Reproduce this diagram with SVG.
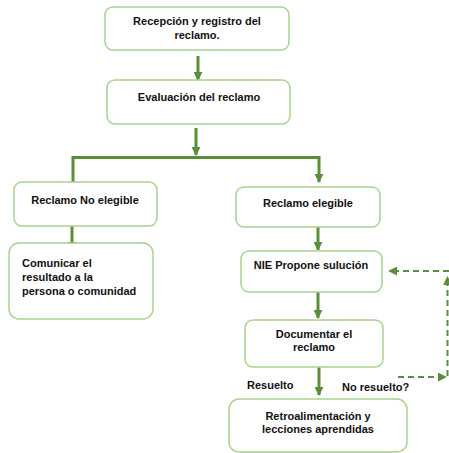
<svg xmlns="http://www.w3.org/2000/svg" width="449" height="453" viewBox="0 0 449 453">
<style>
.box{fill:#fff;stroke:#a8d48c;stroke-width:1.5}
.t{font-family:"Liberation Sans",Arial,sans-serif;font-weight:bold;font-size:11px;fill:#111}
.c{text-anchor:middle}
.ln{stroke:#5a8f3a;stroke-width:3;fill:none}
.ds{stroke:#5a8f3a;stroke-width:2;fill:none;stroke-dasharray:6,4}
</style>
<defs>
<marker id="ah" viewBox="0 0 10 10" refX="9" refY="5" markerWidth="3" markerHeight="3" orient="auto"><path d="M0,0L10,5L0,10z" fill="#5a8f3a"/></marker>
<marker id="ahd" viewBox="0 0 10 10" refX="9" refY="5" markerWidth="4.5" markerHeight="4.5" orient="auto"><path d="M0,0L10,5L0,10z" fill="#5a8f3a"/></marker>
</defs>
<rect width="449" height="453" fill="#fff"/>
<g id="connectors">
<line class="ln" x1="198" y1="56" x2="198" y2="80" marker-end="url(#ah)"/>
<line class="ln" x1="196" y1="128" x2="196" y2="155" marker-end="url(#ah)"/>
<polyline class="ln" points="73,182 73,157.5 319,157.5 319,182" marker-end="url(#ah)"/>
<line class="ln" x1="72" y1="226" x2="72" y2="250" marker-end="url(#ah)"/>
<line class="ln" x1="318" y1="227" x2="318" y2="250" marker-end="url(#ah)"/>
<line class="ln" x1="318" y1="292" x2="318" y2="318" marker-end="url(#ah)"/>
<line class="ln" x1="319" y1="367" x2="319" y2="395" marker-end="url(#ah)"/>
<line class="ds" x1="398" y1="377" x2="446" y2="377" marker-end="url(#ahd)"/>
<line class="ds" x1="447.5" y1="376" x2="447.5" y2="277" marker-end="url(#ahd)"/>
<line class="ds" x1="449" y1="271" x2="389" y2="271" marker-end="url(#ahd)"/>
</g>
<g id="n1"><rect class="box" x="105" y="7" width="184" height="43" rx="8"/><text class="t c" x="197" y="25">Recepción y registro del</text><text class="t c" x="197" y="39">reclamo.</text></g>
<g id="n2"><rect class="box" x="107" y="80" width="183" height="44" rx="8"/><text class="t c" x="199" y="101">Evaluación del reclamo</text></g>
<g id="n3"><rect class="box" x="14" y="182" width="143" height="44" rx="8"/><text class="t c" x="85" y="204">Reclamo No elegible</text></g>
<g id="n4"><rect class="box" x="236" y="187" width="144" height="40" rx="8"/><text class="t c" x="308" y="207">Reclamo elegible</text></g>
<g id="n5"><rect class="box" x="9" y="243" width="144" height="76" rx="10"/><text class="t" x="22" y="267">Comunicar el</text><text class="t" x="22" y="281">resultado a la</text><text class="t" x="22" y="295">persona o comunidad</text></g>
<g id="n6"><rect class="box" x="241" y="251" width="141" height="41" rx="8"/><text class="t c" x="311" y="269">NIE Propone sulución</text></g>
<g id="n7"><rect class="box" x="245" y="320" width="138" height="47" rx="8"/><text class="t c" x="314" y="338">Documentar el</text><text class="t c" x="314" y="351">reclamo</text></g>
<g id="n8"><rect class="box" x="229" y="399" width="178" height="53" rx="10"/><text class="t c" x="318" y="420">Retroalimentación y</text><text class="t c" x="318" y="433">lecciones aprendidas</text></g>
<text class="t" x="247" y="389">Resuelto</text>
<text class="t" x="342" y="391">No resuelto?</text>
</svg>
